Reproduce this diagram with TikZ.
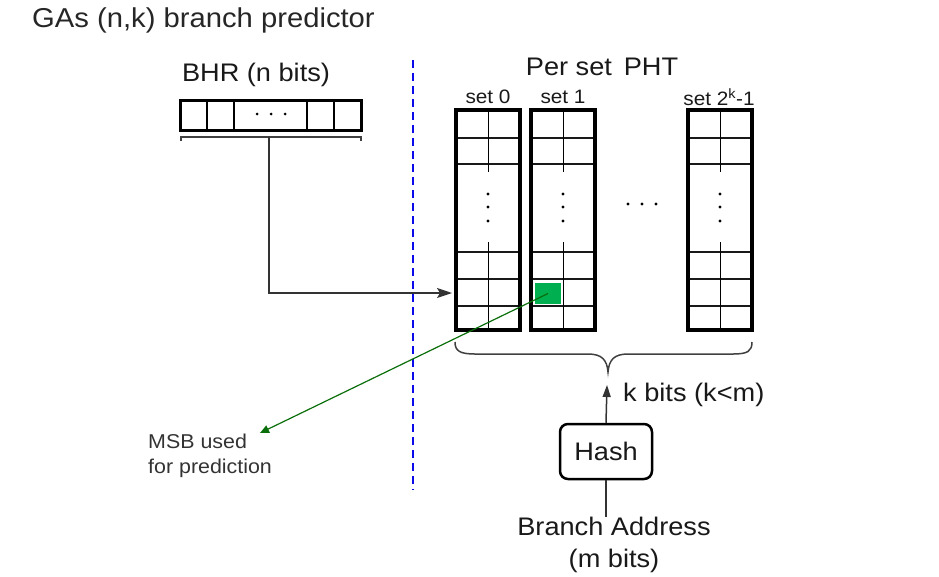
\documentclass[tikz,border=0pt]{standalone}
\usepackage{fontspec}
\setmainfont[FakeStretch=1.07]{Liberation Sans}
\usetikzlibrary{arrows.meta}
\definecolor{cellgreen}{RGB}{0,176,80}
\definecolor{arrowgreen}{RGB}{10,110,10}
\definecolor{dashblue}{RGB}{10,10,235}
\definecolor{txt}{RGB}{25,25,25}
\begin{document}
\begin{tikzpicture}[x=1pt,y=-1pt,
  frame/.style={draw, line width=4pt, inner sep=0pt},
  rowline/.style={line width=2.2pt, draw=black!90},
  midline/.style={line width=1pt},
  biglbl/.style={font=\fontsize{25.4}{30}\selectfont, text=txt, inner sep=0pt},
  setlbl/.style={font=\fontsize{19.4}{24}\selectfont, text=txt, inner sep=0pt},
  smalllbl/.style={font=\fontsize{20}{24}\selectfont, text=black!80, inner sep=0pt, align=left},
  conn/.style={draw=black!80, line width=1.3pt},
  greenconn/.style={draw=arrowgreen, line width=1.2pt, -{Triangle[length=9pt,width=8pt]}},
  bracestyle/.style={draw=black!75, line width=1.5pt}
]
\useasboundingbox (0,0) rectangle (939,576);

% title
\node[anchor=base west, font=\fontsize{27.3}{32}\selectfont, text=black!85, inner sep=0pt] (title) at (32,27) {GAs (n,k) branch predictor};

% BHR
\node[biglbl] (bhrlbl) at (256,75) {BHR (n bits)};
\node[frame, line width=3pt, minimum width=181pt, minimum height=30pt] (bhr) at (270.5,115) {};
\foreach \x in {207,234,307,334} \draw[line width=1.2pt] (\x,101) -- (\x,129);
\foreach \x in {257,271,285} \fill (\x,114) circle (1.5);
\draw[bracestyle, line width=1.2pt] (181,141) -- (181,137) -- (361,137) -- (361,141);
\coordinate (bhrout) at (269,137);
\coordinate (s0in) at (452,293);
\draw[conn, -{Stealth[length=15pt,width=10pt,inset=3pt]}] (bhrout) |- (s0in);

% dashed separator
\draw[dashblue, line width=2.5pt, dash pattern=on 8pt off 5pt] (413,60) -- (413,490);

% PHT
\node[biglbl] (phtlbl) at (602,67) {Per set\, PHT};
\foreach \L/\n in {456/s0, 531/s1, 688/s2} {
  \node[frame, minimum width=64pt, minimum height=220pt] (\n) at (\L+32,220) {};
  \foreach \y in {138,164,252,279,306} \draw[rowline] (\L+2,\y) -- (\L+62,\y);
  \draw[midline] (\L+32,112) -- (\L+32,172) (\L+32,242) -- (\L+32,328);
  \foreach \y in {194,207,221} \fill (\L+32,\y) circle (1.7);
}
\node[setlbl] (s0lbl) at (488,97) {set 0};
\node[setlbl] (s1lbl) at (563,97) {set 1};
\node[setlbl] (s2lbl) at (719,97) {set 2\textsuperscript{k}-1};
\foreach \x in {628,642,656} \fill (\x,204) circle (1.6);

% MSB cell
\node[fill=cellgreen, minimum width=26pt, minimum height=21pt, inner sep=0pt] (msbcell) at (548,293.5) {};
\node[smalllbl, anchor=north west] (msblbl) at (148,434) {MSB used\\[1pt]for prediction};
\coordinate (msbtip) at (260,433);
\draw[greenconn] (msbcell.center) -- (msbtip);

% brace
\draw[bracestyle] (455,342) .. controls (455,351) and (460,354) .. (475,354) -- (588,354)
  .. controls (602,354) and (607,360) .. (608,372)
  .. controls (609,360) and (614,354) .. (628,354) -- (733,354)
  .. controls (748,354) and (752,351) .. (752,342);
\coordinate (bracetip) at (607,385);

% hash and address
\node[draw, line width=2.5pt, rounded corners=8pt, minimum width=92pt, minimum height=55pt, biglbl] (hash) at (606,451.5) {Hash};
\node[biglbl, align=center, anchor=north] (addr) at (614,517) {Branch Address\\[2pt](m bits)};
\draw[conn, line width=1.5pt] (addr.north -| hash.south) -- (hash.south);
\draw[conn, line width=1.5pt, -{Triangle[length=12pt,width=8pt]}] (hash.north) -- (bracetip);
\node[biglbl, anchor=west] (kbits) at (623,395) {k bits (k<m)};
\end{tikzpicture}
\end{document}
